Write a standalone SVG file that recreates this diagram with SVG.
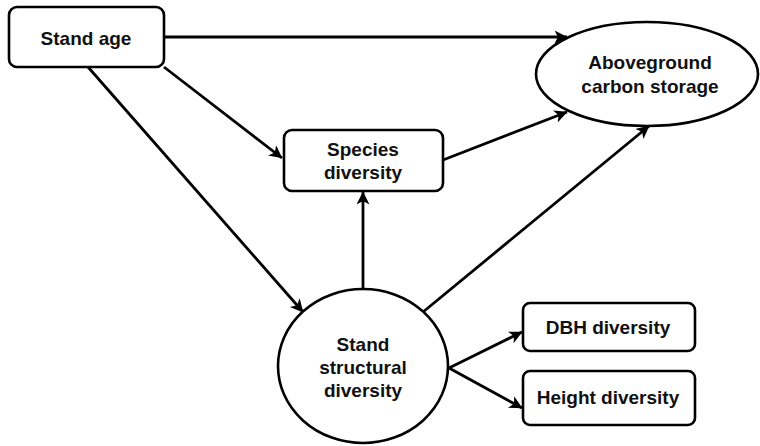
<svg xmlns="http://www.w3.org/2000/svg" width="760" height="446" viewBox="0 0 760 446">
<defs>
<style>
.n{fill:#fff;stroke:#000;stroke-width:2.6}
.t{font-family:"Liberation Sans",Arial,sans-serif;font-weight:bold;font-size:19px;fill:#111;text-anchor:middle}
.e{stroke:#000;stroke-width:2.8;fill:none;marker-end:url(#ah)}
</style>
<marker id="ah" markerUnits="userSpaceOnUse" markerWidth="14" markerHeight="14" refX="12.5" refY="6.5" orient="auto" viewBox="0 0 14 14">
<path d="M0,0 L13,6.5 L0,13 L3.5,6.5 z" fill="#000"/>
</marker>
</defs>
<rect width="760" height="446" fill="#fff"/>
<g id="connectors">
<line class="e" x1="164" y1="37" x2="567" y2="37"/>
<line class="e" x1="164" y1="67" x2="282" y2="158"/>
<line class="e" x1="88" y1="67" x2="303" y2="312"/>
<line class="e" x1="443" y1="160" x2="567" y2="112"/>
<line class="e" x1="363" y1="289" x2="363" y2="192"/>
<line class="e" x1="423" y1="312" x2="649" y2="126"/>
<line class="e" x1="449" y1="368" x2="522" y2="332"/>
<line class="e" x1="449" y1="368" x2="522" y2="408"/>
</g>
<g id="stand-age">
<rect class="n" x="9" y="7" width="155" height="60" rx="8"/>
<text class="t" x="86" y="45">Stand age</text>
</g>
<g id="carbon">
<ellipse class="n" cx="647" cy="74" rx="111" ry="52"/>
<text class="t" x="650" y="69">Aboveground</text>
<text class="t" x="650" y="93">carbon storage</text>
</g>
<g id="species">
<rect class="n" x="284" y="130" width="159" height="61" rx="8"/>
<text class="t" x="363" y="156">Species</text>
<text class="t" x="363" y="179">diversity</text>
</g>
<g id="structural">
<ellipse class="n" cx="363" cy="366" rx="85" ry="77"/>
<text class="t" x="363" y="351">Stand</text>
<text class="t" x="363" y="374">structural</text>
<text class="t" x="363" y="397">diversity</text>
</g>
<g id="dbh">
<rect class="n" x="523" y="303" width="172" height="48" rx="7"/>
<text class="t" x="608" y="334">DBH diversity</text>
</g>
<g id="height">
<rect class="n" x="523" y="371" width="172" height="54" rx="7"/>
<text class="t" x="608" y="404">Height diversity</text>
</g>
</svg>
